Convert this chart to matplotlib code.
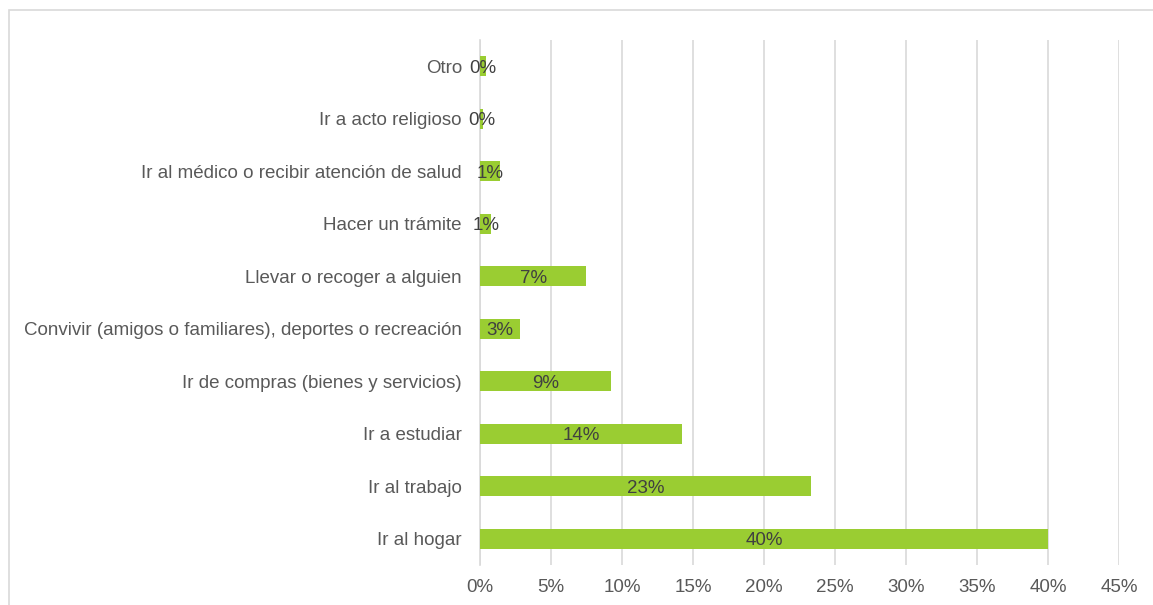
import matplotlib.pyplot as plt
from matplotlib.patches import Rectangle

plt.rcParams["font.family"] = ["Liberation Sans", "DejaVu Sans"]

motivos = [
    "Ir al hogar",
    "Ir al trabajo",
    "Ir a estudiar",
    "Ir de compras (bienes y servicios)",
    "Convivir (amigos o familiares), deportes o recreación",
    "Llevar o recoger a alguien",
    "Hacer un trámite",
    "Ir al médico o recibir atención de salud",
    "Ir a acto religioso",
    "Otro",
]
porcentajes = [40.0, 23.3, 14.2, 9.2, 2.8, 7.5, 0.8, 1.4, 0.2, 0.4]
etiquetas = ["40%", "23%", "14%", "9%", "3%", "7%", "1%", "1%", "0%", "0%"]
ticks = [0, 5, 10, 15, 20, 25, 30, 35, 40, 45]

fig = plt.figure(figsize=(11.53, 6.05), dpi=100)
ax = fig.add_axes([0.4163, 0.0661, 0.5542, 0.8678])

y = range(len(motivos))
ax.barh(y, porcentajes, height=0.38, color="#9ACD32", zorder=3)
for i, (v, t) in enumerate(zip(porcentajes, etiquetas)):
    ax.text(v / 2, i, t, ha="center", va="center_baseline", fontsize=13.5, color="#404040", zorder=4)

ax.set_xlim(0, 45)
ax.set_ylim(-0.5, len(motivos) - 0.5)
ax.set_xticks(ticks)
ax.set_xticklabels([f"{t}%" for t in ticks])
ax.set_yticks(list(y))
ax.set_yticklabels(motivos)
ax.tick_params(axis="both", length=0, labelsize=13.5, labelcolor="#595959")
ax.tick_params(axis="y", pad=13)
ax.tick_params(axis="x", pad=10)
ax.grid(axis="x", color="#D9D9D9", linewidth=1.2, zorder=0)
for s in ["top", "right", "bottom"]:
    ax.spines[s].set_visible(False)
ax.spines["left"].set_color("#D9D9D9")
ax.spines["left"].set_linewidth(1.2)

fig.patches.append(Rectangle((9 / 1153, -0.1), 1.2, (595 / 605) + 0.1, transform=fig.transFigure,
                             fill=False, edgecolor="#D9D9D9", linewidth=1.2, zorder=0))

fig.savefig("out.png", dpi=100)
